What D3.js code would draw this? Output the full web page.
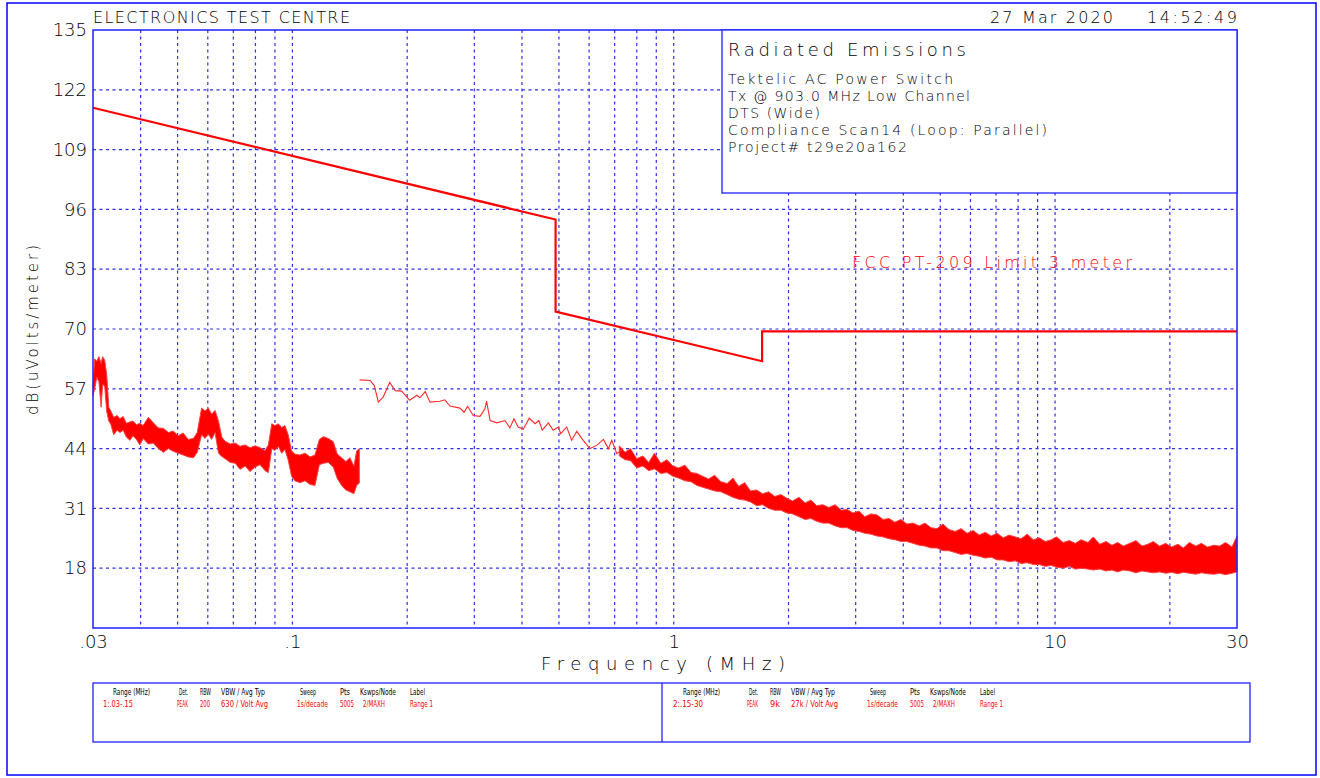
<!DOCTYPE html>
<html>
<head>
<meta charset="utf-8">
<script src="https://cdnjs.cloudflare.com/ajax/libs/d3/7.8.5/d3.min.js"></script>
<style>
    body { margin: 0; background: #fff; }
    svg text { font-family: "DejaVu Sans", sans-serif; font-weight: 200; fill: #000; }
    svg text.small { font-family: "Liberation Sans Narrow", "DejaVu Sans Condensed", sans-serif; font-weight: normal; font-size: 9px; }
</style>
</head>
<body>
<svg id="chart" width="1320" height="778"></svg>
<script>
// axis values
var yTicks = [18, 31, 44, 57, 70, 83, 96, 109, 122, 135];
var xTickValues = [0.03, 0.1, 1, 10, 30];
var xTickLabels = [".03", ".1", "1", "10", "30"];
var xGrid = [0.04, 0.05, 0.06, 0.07, 0.08, 0.09, 0.1, 0.2, 0.3, 0.4, 0.5, 0.6, 0.7, 0.8, 0.9,
             1, 2, 3, 4, 5, 6, 7, 8, 9, 10, 20];

// FCC 15.209 limit (3 m)
var limitFreq = [0.03, 0.49, 0.49, 1.705, 1.705, 30];
var limitLevel = [118.1, 93.8, 73.8, 63.0, 69.5, 69.5];

// range 1 (.03 - .15 MHz) peak trace envelope
var range1Freq = [0.0300, 0.0303, 0.0307, 0.0311, 0.0315, 0.0318, 0.0322, 0.0326, 0.0330, 0.0334,
                  0.0340, 0.0347, 0.0353, 0.0360, 0.0367, 0.0375, 0.0382, 0.0390, 0.0398, 0.0406,
                  0.0419, 0.0432, 0.0445, 0.0459, 0.0473, 0.0487, 0.0502, 0.0517, 0.0533, 0.0550,
                  0.0563, 0.0578, 0.0590, 0.0602, 0.0614, 0.0627, 0.0640, 0.0653, 0.0666, 0.0687,
                  0.0708, 0.0729, 0.0752, 0.0774, 0.0798, 0.0823, 0.0848, 0.0865, 0.0883, 0.0900,
                  0.0919, 0.0937, 0.0956, 0.0975, 0.0995, 0.1015, 0.1047, 0.1079, 0.1113, 0.1146,
                  0.1177, 0.1205, 0.1242, 0.1280, 0.1311, 0.1346, 0.1381, 0.1415, 0.1450, 0.1474, 0.1498];
var range1High = [58.0, 63.5, 63.0, 64.0, 62.5, 64.0, 63.2, 60.0, 53.0, 52.2,
                  50.8, 51.2, 50.5, 51.0, 49.5, 49.8, 50.0, 49.2, 49.5, 49.0,
                  50.8, 49.6, 48.5, 48.4, 47.5, 47.8, 46.8, 47.4, 46.0, 46.2,
                  47.5, 52.8, 52.2, 52.8, 51.5, 52.3, 50.0, 46.5, 45.6, 45.0,
                  45.2, 44.5, 44.8, 44.2, 44.6, 44.2, 43.6, 44.8, 49.4, 49.0,
                  49.4, 48.6, 49.0, 47.0, 43.5, 42.8, 42.6, 43.0, 42.2, 42.6,
                  46.0, 46.6, 46.2, 45.5, 42.8, 42.0, 41.2, 42.0, 40.2, 43.5, 44.0];
var range1Low = [55.5, 57.0, 59.5, 58.5, 53.0, 58.0, 57.5, 52.0, 50.0, 49.3,
                 47.0, 48.0, 47.5, 48.0, 46.5, 45.8, 46.8, 46.0, 44.8, 46.2,
                 45.0, 45.2, 44.0, 43.2, 44.0, 43.4, 43.0, 42.6, 42.2, 42.0,
                 43.2, 47.0, 46.2, 47.2, 46.0, 47.5, 43.0, 42.3, 41.8, 41.0,
                 40.8, 39.5, 40.2, 39.0, 40.0, 40.5, 39.2, 38.8, 44.0, 43.6,
                 44.5, 43.0, 43.8, 41.5, 38.0, 37.0, 36.6, 37.0, 36.2, 36.0,
                 40.5, 40.8, 41.0, 40.0, 37.5, 36.0, 35.0, 34.6, 34.2, 36.0, 36.5];

// range 2 (.15 - 30 MHz), thin part of the trace
var range2LineFreq = [0.150, 0.160, 0.164, 0.168, 0.173, 0.180, 0.186, 0.1935, 0.203, 0.212,
                      0.216, 0.223, 0.2295, 0.244, 0.251, 0.259, 0.275, 0.282, 0.288, 0.298,
                      0.3105, 0.320, 0.323, 0.330, 0.3435, 0.361, 0.372, 0.381, 0.391, 0.403,
                      0.418, 0.433, 0.443, 0.452, 0.469, 0.483, 0.498, 0.5055, 0.524, 0.540,
                      0.557, 0.579, 0.603, 0.628, 0.654, 0.674, 0.688, 0.709, 0.738];
var range2LineLevel = [58.95, 58.8, 57.7, 54.1, 55.2, 58.4, 56.6, 56.5, 54.5, 55.6,
                       55.05, 56.4, 54.1, 54.3, 54.6, 53.25, 52.8, 51.9, 53.2, 51.2,
                       51.0, 52.7, 54.3, 50.1, 49.6, 50.1, 48.5, 50.5, 48.7, 48.2,
                       50.6, 49.4, 50.1, 48.0, 49.6, 48.0, 48.7, 47.25, 48.7, 45.8,
                       47.75, 45.8, 44.0, 44.7, 46.0, 44.0, 45.8, 42.9, 44.0];

// range 2, noisy part of the trace envelope
var range2Freq = [0.72, 0.745, 0.77, 0.80, 0.83, 0.86, 0.89, 0.925, 0.96, 0.995,
                  1.03, 1.07, 1.11, 1.15, 1.19, 1.235, 1.28, 1.33, 1.38, 1.43,
                  1.48, 1.535, 1.59, 1.65, 1.71, 1.775, 1.84, 1.91, 1.98, 2.05,
                  2.13, 2.21, 2.29, 2.37, 2.46, 2.55, 2.65, 2.75, 2.85, 2.95,
                  3.06, 3.17, 3.29, 3.41, 3.54, 3.67, 3.8, 3.94, 4.09, 4.24,
                  4.4, 4.56, 4.73, 4.9, 5.08, 5.27, 5.47, 5.67, 5.88, 6.1,
                  6.32, 6.56, 6.8, 7.05, 7.31, 7.58, 7.86, 8.15, 8.45, 8.77,
                  9.09, 9.43, 9.78, 10.1, 10.5, 10.9, 11.3, 11.7, 12.2, 12.6,
                  13.1, 13.6, 14.1, 14.6, 15.1, 15.7, 16.3, 16.9, 17.5, 18.1,
                  18.8, 19.5, 20.2, 21.0, 21.7, 22.5, 23.4, 24.2, 25.1, 26.1,
                  27.0, 28.0, 29.1, 30.0];
var range2High = [44.6, 43.2, 44.0, 41.8, 42.4, 41.0, 43.0, 40.8, 41.6, 40.2,
                  39.8, 40.4, 38.8, 38.6, 38.0, 37.4, 38.2, 36.8, 36.4, 37.6,
                  35.8, 36.6, 34.8, 35.0, 34.2, 34.6, 33.6, 34.0, 33.2, 32.6,
                  33.4, 32.2, 32.8, 31.6, 31.8, 31.2, 31.8, 30.6, 30.8, 30.0,
                  30.4, 29.2, 29.8, 29.6, 28.6, 28.8, 28.0, 28.6, 27.6, 27.8,
                  27.2, 27.8, 26.8, 26.6, 27.6, 26.4, 26.0, 26.6, 25.6, 26.2,
                  25.2, 25.8, 25.0, 25.6, 24.6, 25.2, 24.8, 24.4, 25.4, 24.2,
                  24.6, 23.8, 24.2, 24.8, 23.6, 24.0, 23.4, 24.2, 23.6, 24.8,
                  23.2, 23.8, 23.0, 23.6, 22.8, 23.4, 24.0, 22.8, 23.2, 23.8,
                  22.8, 23.4, 22.6, 23.2, 22.4, 23.6, 22.8, 23.4, 22.6, 23.0,
                  22.8, 23.6, 22.6, 25.0];
var range2Low = [42.4, 41.6, 41.4, 39.8, 40.2, 39.2, 39.6, 38.6, 38.8, 38.0,
                 37.6, 37.0, 36.8, 36.0, 35.6, 35.2, 34.8, 34.6, 34.0, 33.4,
                 33.0, 32.8, 32.4, 31.6, 31.8, 31.0, 30.6, 30.6, 30.0, 29.8,
                 29.2, 28.6, 28.8, 28.2, 27.8, 27.8, 27.2, 26.8, 26.8, 26.2,
                 26.0, 25.6, 25.4, 25.0, 24.8, 24.4, 24.2, 23.8, 23.8, 23.4,
                 23.0, 22.8, 22.4, 22.4, 21.8, 21.8, 21.4, 21.0, 21.2, 20.8,
                 20.6, 20.2, 20.4, 19.8, 19.8, 19.4, 19.6, 19.0, 19.2, 18.8,
                 18.8, 18.4, 18.6, 18.2, 18.0, 18.4, 17.8, 18.0, 17.8, 17.6,
                 17.8, 17.4, 17.6, 17.2, 17.6, 17.4, 17.0, 17.4, 17.2, 17.0,
                 17.2, 16.9, 17.1, 16.8, 17.1, 16.9, 16.7, 17.0, 16.8, 16.7,
                 16.9, 16.6, 16.9, 17.2];

// header / info texts
var infoTitle = "Radiated Emissions";
var infoLines = ["Tektelic AC Power Switch", "Tx @ 903.0 MHz Low Channel", "DTS (Wide)",
                 "Compliance Scan14 (Loop: Parallel)", "Project# t29e20a162"];
var footerHeaders = ["Range (MHz)", "Det.", "RBW", "VBW / Avg Typ", "Sweep", "Pts", "Kswps/Node", "Label"];
var range1Settings = ["1:.03-.15", "PEAK", "200", "630 / Volt Avg", "1s/decade", "5005", "2/MAXH", "Range 1"];
var range2Settings = ["2:.15-30", "PEAK", "9k", "27k / Volt Avg", "1s/decade", "5005", "2/MAXH", "Range 1"];

(function () {
    var svg = d3.select("#chart"),
        left = 93, right = 1237, top = 30, bottom = 628,
        gridColor = "#2f2fef", axisColor = "#1f1fff", red = "#ff0000";

    var x = d3.scaleLog().domain([0.03, 30]).range([left, right]);
    var y = d3.scaleLinear().domain([5, 135]).range([bottom, top]);

    // page border
    svg.append("rect")
        .attr("x", 7).attr("y", 3)
        .attr("width", 1309).attr("height", 772)
        .attr("fill", "none")
        .attr("stroke", "#0000ff")
        .attr("stroke-width", 1.5);

    // grid
    svg.append("g").selectAll("line")
        .data(xGrid)
        .enter()
        .append("line")
        .attr("x1", function (d) { return x(d); })
        .attr("x2", function (d) { return x(d); })
        .attr("y1", top)
        .attr("y2", bottom)
        .attr("stroke", gridColor)
        .attr("stroke-width", 1.2)
        .attr("stroke-dasharray", "3,3.5");

    svg.append("g").selectAll("line")
        .data(yTicks.slice(0, -1))
        .enter()
        .append("line")
        .attr("x1", left)
        .attr("x2", right)
        .attr("y1", function (d) { return y(d); })
        .attr("y2", function (d) { return y(d); })
        .attr("stroke", gridColor)
        .attr("stroke-width", 1.2)
        .attr("stroke-dasharray", "3,3.5");

    // axes
    var yAxis = svg.append("g")
        .attr("transform", "translate(" + left + ",0)")
        .call(d3.axisLeft(y).tickValues(yTicks).tickSize(0).tickPadding(6));
    yAxis.select(".domain").remove();
    yAxis.selectAll("text").attr("font-size", "18px").attr("font-family", null);

    var xAxis = svg.append("g")
        .attr("transform", "translate(0," + bottom + ")")
        .call(d3.axisBottom(x).tickValues(xTickValues)
            .tickFormat(function (d, i) { return xTickLabels[i]; })
            .tickSize(0).tickPadding(7));
    xAxis.select(".domain").remove();
    xAxis.selectAll("text").attr("font-size", "18px").attr("font-family", null);

    svg.append("text")
        .attr("transform", "translate(38,330) rotate(-90)")
        .attr("text-anchor", "middle")
        .attr("font-size", "15px")
        .attr("textLength", 170)
        .text("dB(uVolts/meter)");

    svg.append("text")
        .attr("x", 541).attr("y", 670)
        .attr("font-size", "18px")
        .attr("textLength", 244)
        .text("Frequency (MHz)");

    // traces
    var band1 = range1Freq.map(function (f, i) { return { f: f, lo: range1Low[i], hi: range1High[i] }; });
    var band2 = range2Freq.map(function (f, i) { return { f: f, lo: range2Low[i], hi: range2High[i] }; });
    var thin2 = range2LineFreq.map(function (f, i) { return { f: f, v: range2LineLevel[i] }; });

    var area = d3.area()
        .x(function (d) { return x(d.f); })
        .y0(function (d) { return y(d.lo); })
        .y1(function (d) { return y(d.hi); });

    [band1, band2].forEach(function (b) {
        svg.append("path")
            .datum(b)
            .attr("fill", red)
            .attr("stroke", "#ff4040")
            .attr("stroke-width", 1)
            .attr("d", area);
    });

    svg.append("path")
        .datum(thin2)
        .attr("fill", "none")
        .attr("stroke", "#ff2a2a")
        .attr("stroke-width", 1.1)
        .attr("d", d3.line()
            .x(function (d) { return x(d.f); })
            .y(function (d) { return y(d.v); }));

    var limit = limitFreq.map(function (f, i) { return { f: f, v: limitLevel[i] }; });
    svg.append("path")
        .datum(limit)
        .attr("fill", "none")
        .attr("stroke", red)
        .attr("stroke-width", 2.2)
        .attr("d", d3.line()
            .x(function (d) { return x(d.f); })
            .y(function (d) { return y(d.v); }));

    svg.append("text")
        .attr("x", 852).attr("y", 268)
        .attr("font-size", "16px")
        .attr("textLength", 280)
        .style("fill", red)
        .text("FCC PT-209 Limit 3 meter");

    // plot frame
    svg.append("rect")
        .attr("x", left).attr("y", top)
        .attr("width", right - left).attr("height", bottom - top)
        .attr("fill", "none")
        .attr("stroke", axisColor)
        .attr("stroke-width", 1.5);

    // info box
    svg.append("rect")
        .attr("x", 722).attr("y", top)
        .attr("width", right - 722).attr("height", 163)
        .attr("fill", "#fff")
        .attr("stroke", axisColor)
        .attr("stroke-width", 1.3);

    svg.append("text")
        .attr("x", 728).attr("y", 56)
        .attr("font-size", "18px")
        .attr("textLength", 238)
        .text(infoTitle);

    var infoWidths = [225, 242, 92, 319, 179];
    svg.append("g").selectAll("text")
        .data(infoLines)
        .enter()
        .append("text")
        .attr("x", 728)
        .attr("y", function (d, i) { return 84 + i * 17; })
        .attr("font-size", "14px")
        .attr("textLength", function (d, i) { return infoWidths[i]; })
        .text(function (d) { return d; });

    // header
    svg.append("text")
        .attr("x", 93).attr("y", 23)
        .attr("font-size", "16px")
        .attr("textLength", 257)
        .text("ELECTRONICS TEST CENTRE");

    svg.append("text")
        .attr("x", 990).attr("y", 23)
        .attr("font-size", "16px")
        .attr("textLength", 123)
        .text("27 Mar 2020");

    svg.append("text")
        .attr("x", 1147).attr("y", 23)
        .attr("font-size", "16px")
        .attr("textLength", 90)
        .text("14:52:49");

    // footer
    svg.append("rect")
        .attr("x", 93).attr("y", 683)
        .attr("width", 1157).attr("height", 59)
        .attr("fill", "none")
        .attr("stroke", axisColor)
        .attr("stroke-width", 1.3);

    svg.append("line")
        .attr("x1", 662).attr("x2", 662)
        .attr("y1", 683).attr("y2", 742)
        .attr("stroke", axisColor)
        .attr("stroke-width", 1.3);

    var headX = [113, 179, 200, 221, 300, 340, 360, 410],
        headW = [37, 9, 11, 44, 16, 10, 36, 15],
        valX = [103, 177, 200, 221, 297, 340, 363, 410],
        valW = [30, 11, 10, 47, 31, 14, 22, 23];

    [range1Settings, range2Settings].forEach(function (row, p) {
        var off = p * 570;
        var panel = svg.append("g").attr("transform", "translate(" + off + ",0)");
        panel.selectAll(".hd")
            .data(footerHeaders)
            .enter()
            .append("text")
            .attr("class", "small")
            .attr("x", function (d, i) { return headX[i]; })
            .attr("y", 695)
            .attr("textLength", function (d, i) { return headW[i]; })
            .attr("lengthAdjust", "spacingAndGlyphs")
            .text(function (d) { return d; });
        panel.selectAll(".vl")
            .data(row)
            .enter()
            .append("text")
            .attr("class", "small")
            .attr("x", function (d, i) { return valX[i]; })
            .attr("y", 707)
            .attr("textLength", function (d, i) { return valW[i]; })
            .attr("lengthAdjust", "spacingAndGlyphs")
            .style("fill", red)
            .text(function (d) { return d; });
    });
})();
</script>
</body>
</html>
